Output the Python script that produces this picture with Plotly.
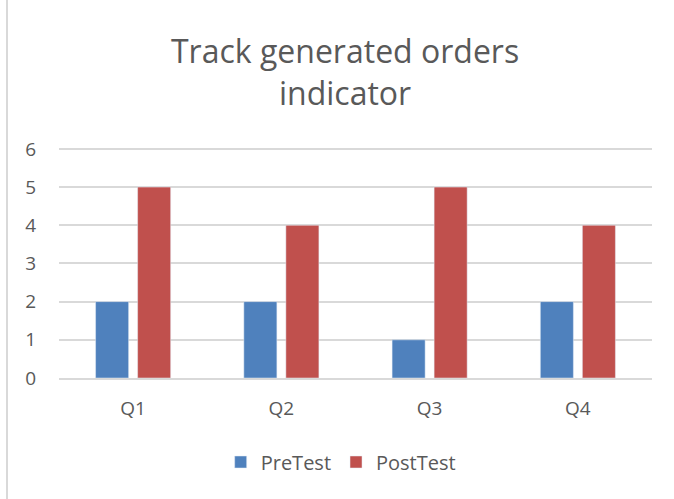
import plotly.graph_objects as go

categories = ["Q1", "Q2", "Q3", "Q4"]
pretest = [2, 2, 1, 2]
posttest = [5, 4, 5, 4]
title_text = "Track generated orders<br>indicator"

font_family = "Open Sans, Liberation Sans, sans-serif"
gray = "#595959"

ymax = 6.05
plot_h = 229 * ymax / 6

fig = go.Figure()
fig.add_trace(go.Bar(name="PreTest", x=categories, y=pretest, marker_color="#4F81BD"))
fig.add_trace(go.Bar(name="PostTest", x=categories, y=posttest, marker_color="#C0504D"))

fig.update_layout(
    width=674, height=499,
    margin=dict(l=59, r=22, t=499 - 121 - plot_h, b=121, autoexpand=False),
    paper_bgcolor="white", plot_bgcolor="white",
    barmode="group", bargap=0.433, bargroupgap=0.214,
    title=dict(text=title_text, x=0.512, xanchor="center",
               yref="container", y=1 - 63 / 499, yanchor="top",
               font=dict(family=font_family, size=32, color=gray)),
    font=dict(family=font_family, color=gray),
    yaxis=dict(range=[0, ymax], tickvals=[0, 1, 2, 3, 4, 5, 6], showgrid=True,
               gridcolor="#d9d9d9", gridwidth=1.5,
               zeroline=False, showline=False, tickfont=dict(size=19, color=gray),
               ticklabelstandoff=22, automargin=False),
    xaxis=dict(showline=True, linecolor="#d9d9d9", linewidth=1.5,
               tickfont=dict(size=19, color=gray), ticks="", ticklabelstandoff=12,
               automargin=False),
    legend=dict(orientation="h", x=0.475, xanchor="center",
                yref="container", y=(499 - 462) / 499, yanchor="middle",
                font=dict(size=20, color=gray), itemwidth=30),
    showlegend=True,
    shapes=[dict(type="line", xref="paper", yref="paper",
                 x0=(7 - 59) / 593, x1=(7 - 59) / 593, y0=-121 / plot_h, y1=1 + 149 / plot_h,
                 line=dict(color="#d9d9d9", width=2))],
)

fig.write_html("out.html", config={"displayModeBar": False},
               post_script="document.body.style.margin='0';")
